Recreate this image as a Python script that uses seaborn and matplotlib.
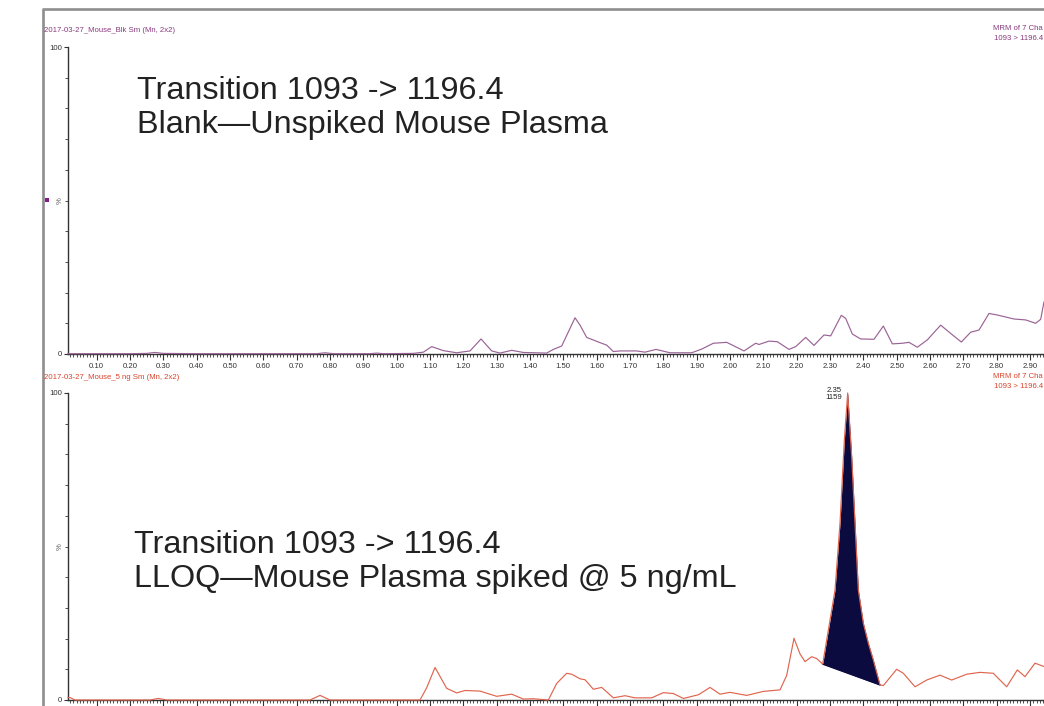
import numpy as np
import pandas as pd
import matplotlib
matplotlib.use("Agg")
import matplotlib.pyplot as plt
from matplotlib import font_manager
from matplotlib.ticker import MultipleLocator, FixedLocator, FixedFormatter
from matplotlib.patches import Rectangle
from matplotlib.lines import Line2D
import seaborn as sns

# ---------------- data ----------------
blank_title = "2017-03-27_Mouse_Blk Sm (Mn, 2x2)"
spike_title = "2017-03-27_Mouse_5 ng Sm (Mn, 2x2)"
mrm_line1 = "MRM of 7 Cha"
mrm_line2 = "1093 > 1196.4"
blank_text = ["Transition 1093 -> 1196.4", "Blank\u2014Unspiked Mouse Plasma"]
spike_text = ["Transition 1093 -> 1196.4", "LLOQ\u2014Mouse Plasma spiked @ 5 ng/mL"]

x_tick_values = [round(0.1 * i, 2) for i in range(1, 30)]
x_tick_labels = [f"{v:.2f}" for v in x_tick_values]
y_tick_values = [0, 100]
y_tick_labels = ["0", "100"]

blank_time = [0.013, 0.10, 0.20, 0.25, 0.275, 0.30, 0.40, 0.60, 0.76, 0.785, 0.81,
              0.92, 0.94, 0.96, 1.05, 1.08, 1.105, 1.14, 1.18, 1.22, 1.253, 1.285,
              1.31, 1.345, 1.38, 1.45, 1.47, 1.495, 1.535, 1.55, 1.57, 1.61, 1.63,
              1.65, 1.67, 1.72, 1.745, 1.778, 1.82, 1.885, 1.915, 1.95, 1.99, 2.042,
              2.077, 2.087, 2.117, 2.142, 2.177, 2.197, 2.227, 2.252, 2.282, 2.302,
              2.334, 2.347, 2.367, 2.392, 2.432, 2.46, 2.487, 2.517, 2.537, 2.562,
              2.592, 2.632, 2.662, 2.694, 2.722, 2.747, 2.777, 2.802, 2.852, 2.887,
              2.917, 2.932, 2.942]
blank_pct = [0.1, 0.1, 0.1, 0.2, 0.5, 0.2, 0.1, 0.1, 0.1, 0.4, 0.1,
             0.1, 0.3, 0.1, 0.2, 0.6, 2.4, 1.1, 0.4, 1.0, 4.9, 1.0,
             0.3, 1.2, 0.5, 0.3, 1.5, 2.6, 11.8, 9.4, 5.4, 3.7, 2.9,
             0.8, 1.0, 1.0, 0.6, 1.5, 0.4, 0.4, 1.6, 3.5, 3.8, 1.0,
             3.5, 3.1, 4.2, 4.0, 1.5, 2.4, 5.4, 2.8, 6.2, 5.9,
             12.6, 11.6, 6.5, 4.9, 4.8, 9.1, 3.3, 3.5, 3.8, 2.2,
             4.6, 9.4, 6.7, 3.9, 7.1, 7.8, 13.2, 12.7, 11.4, 11.1,
             10.0, 11.3, 17.0]

spike_time = [0.013, 0.02, 0.035, 0.26, 0.285, 0.31, 0.74, 0.77, 0.80, 1.07, 1.09,
              1.115, 1.15, 1.18, 1.205, 1.25, 1.30, 1.345, 1.38, 1.41, 1.455, 1.48,
              1.51, 1.525, 1.55, 1.565, 1.59, 1.615, 1.65, 1.685, 1.715, 1.765, 1.80,
              1.83, 1.86, 1.905, 1.94, 1.97, 2.0, 2.05, 2.1, 2.15, 2.17, 2.192, 2.21,
              2.225, 2.245, 2.26, 2.278, 2.30, 2.315, 2.33, 2.343, 2.353, 2.365, 2.375,
              2.385, 2.40, 2.415, 2.43, 2.45, 2.46, 2.50, 2.52, 2.555, 2.59, 2.63,
              2.665, 2.71, 2.75, 2.79, 2.83, 2.862, 2.885, 2.915, 2.942]
spike_pct = [0.8, 0.8, 0.0, 0.0, 0.5, 0.0, 0.0, 1.5, 0.0, 0.0, 4.0,
             10.6, 3.8, 2.3, 3.1, 2.9, 1.2, 1.9, 0.3, 0.4, 0.0, 5.4,
             8.7, 8.4, 6.9, 6.6, 3.5, 4.1, 0.7, 1.4, 0.7, 0.7, 2.4,
             2.1, 0.5, 1.7, 4.1, 1.9, 2.5, 1.5, 2.8, 3.3, 8.0, 20.1, 15.0,
             12.5, 14.1, 13.5, 11.7, 26.0, 35.8, 57.6, 84.7, 100.0, 79.3, 57.6,
             35.8, 25.0, 18.5, 13.0, 4.9, 4.7, 10.0, 8.7, 4.3, 6.5, 8.1,
             6.5, 8.4, 9.0, 8.7, 4.3, 9.8, 7.6, 12.0, 10.9]

peak_start = (2.278, 11.7)
peak_end = (2.45, 4.9)
peak_apex = (2.353, 100.0)
peak_label = "2.35\n1159"

x_range = (0.013, 2.942)

# ---------------- style ----------------
sns.set_style("white")
names = {f.name for f in font_manager.fontManager.ttflist}
small_font = "Liberation Sans Narrow" if "Liberation Sans Narrow" in names else "Liberation Sans"
small_size = 6.6 if small_font == "Liberation Sans Narrow" else 5.6
plt.rcParams["font.family"] = [small_font, "DejaVu Sans"]

W, H = 1044, 706
fig = plt.figure(figsize=(W / 100, H / 100), dpi=100)
fig.patch.set_facecolor("white")

def fx(px):
    return px / W

def fy(py):
    return 1 - py / H

ax_left = 67.7
ax1 = fig.add_axes([fx(ax_left), fy(354), 1 - fx(ax_left), 307 / H])
ax2 = fig.add_axes([fx(ax_left), fy(700), 1 - fx(ax_left), 307 / H])

blank_color = "#9a6396"
spike_color = "#e0654f"

df_blank = pd.DataFrame({"time": blank_time, "pct": blank_pct})
df_spike = pd.DataFrame({"time": spike_time, "pct": spike_pct})

sns.lineplot(data=df_blank, x="time", y="pct", ax=ax1, color=blank_color,
             linewidth=0.85, zorder=5, clip_on=False)

# filled integrated peak
st = np.array(spike_time)
sp = np.array(spike_pct)
mask = (st >= peak_start[0]) & (st <= peak_end[0])
pt = st[mask]
pv = sp[mask]
base = np.interp(pt, [peak_start[0], peak_end[0]], [peak_start[1], peak_end[1]])
ax2.fill_between(pt, base, pv, color="#0b0b3f", zorder=3, linewidth=0)
ax2.plot([peak_start[0], peak_end[0]], [peak_start[1], peak_end[1]],
         color="#0b0b3f", linewidth=1.0, zorder=4)
sns.lineplot(data=df_spike, x="time", y="pct", ax=ax2, color=spike_color,
             linewidth=0.85, zorder=5, clip_on=False)
ax2.annotate(peak_label, xy=peak_apex, xytext=(-4, -1), textcoords="offset points",
             ha="right", va="center", fontsize=small_size, color="#222222",
             linespacing=1.0)

for ax in (ax1, ax2):
    ax.set_xlim(*x_range)
    ax.set_ylim(0, 100)
    ax.set_xlabel("")
    ax.set_ylabel("")
    ax.set_facecolor("none")
    for s in ("top", "right"):
        ax.spines[s].set_visible(False)
    for s in ("left", "bottom"):
        ax.spines[s].set_color("#333333")
        ax.spines[s].set_linewidth(1.0)
    ax.xaxis.set_major_locator(FixedLocator(x_tick_values))
    ax.xaxis.set_major_formatter(FixedFormatter(x_tick_labels))
    ax.xaxis.set_minor_locator(MultipleLocator(0.01))
    ax.yaxis.set_major_locator(FixedLocator(y_tick_values))
    ax.yaxis.set_major_formatter(FixedFormatter(y_tick_labels))
    ax.yaxis.set_minor_locator(MultipleLocator(10))
    ax.tick_params(axis="x", which="major", direction="out", length=4, width=0.8,
                   color="#333333", labelsize=small_size, labelcolor="#333333", pad=2.5,
                   bottom=True)
    ax.tick_params(axis="x", which="minor", direction="out", length=2, width=0.6,
                   color="#333333", bottom=True)
    ax.tick_params(axis="y", which="major", direction="out", length=3, width=0.8,
                   color="#333333", labelsize=small_size, labelcolor="#333333", pad=1,
                   left=True)
    ax.tick_params(axis="y", which="minor", direction="out", length=2, width=0.6,
                   color="#333333", left=True)
    ax.text(-0.004, 0.5, "%", transform=ax.transAxes, rotation=90, ha="right",
            va="center", fontsize=small_size, color="#555555")
    ax.grid(False)

# bottom panel's time labels fall below the visible area in the reference
ax2.tick_params(axis="x", which="major", labelbottom=False)

# panel titles and MRM headers
fig.text(fx(44), fy(31), blank_title, ha="left", va="center", fontsize=small_size,
         color="#8a3a7e")
fig.text(fx(44), fy(377), spike_title, ha="left", va="center", fontsize=small_size,
         color="#d9432c")
fig.text(fx(1043), fy(29), mrm_line1, ha="right", va="center", fontsize=small_size,
         color="#8a3a7e")
fig.text(fx(1043), fy(39), mrm_line2, ha="right", va="center", fontsize=small_size,
         color="#8a3a7e")
fig.text(fx(1043), fy(376), mrm_line1, ha="right", va="center", fontsize=small_size,
         color="#d9432c")
fig.text(fx(1043), fy(386), mrm_line2, ha="right", va="center", fontsize=small_size,
         color="#d9432c")

# big annotations
big_font = ["Liberation Sans", "DejaVu Sans"]
big_size = 23.3
big_color = "#222222"
fig.text(fx(137), fy(91), blank_text[0], ha="left", va="center", fontsize=big_size,
         color=big_color, family=big_font)
fig.text(fx(137), fy(125), blank_text[1], ha="left", va="center", fontsize=big_size,
         color=big_color, family=big_font)
fig.text(fx(134), fy(545), spike_text[0], ha="left", va="center", fontsize=big_size,
         color=big_color, family=big_font)
fig.text(fx(134), fy(579), spike_text[1], ha="left", va="center", fontsize=big_size,
         color=big_color, family=big_font)

# window frame (gray border) and marker square
fig.add_artist(Line2D([fx(42.7), fx(42.7)], [0, fy(8.7)], transform=fig.transFigure,
                      color="#8e8e8e", linewidth=1.9, solid_capstyle="butt"))
fig.add_artist(Line2D([fx(41.8), 1], [fy(8.7), fy(8.7)], transform=fig.transFigure,
                      color="#8e8e8e", linewidth=1.9, solid_capstyle="butt"))
fig.add_artist(Rectangle((fx(45.3), fy(201.5)), 4 / W, 4 / H, transform=fig.transFigure,
                         color="#8b1a8b", linewidth=0))

fig.savefig("out.png", dpi=100, facecolor="white")
